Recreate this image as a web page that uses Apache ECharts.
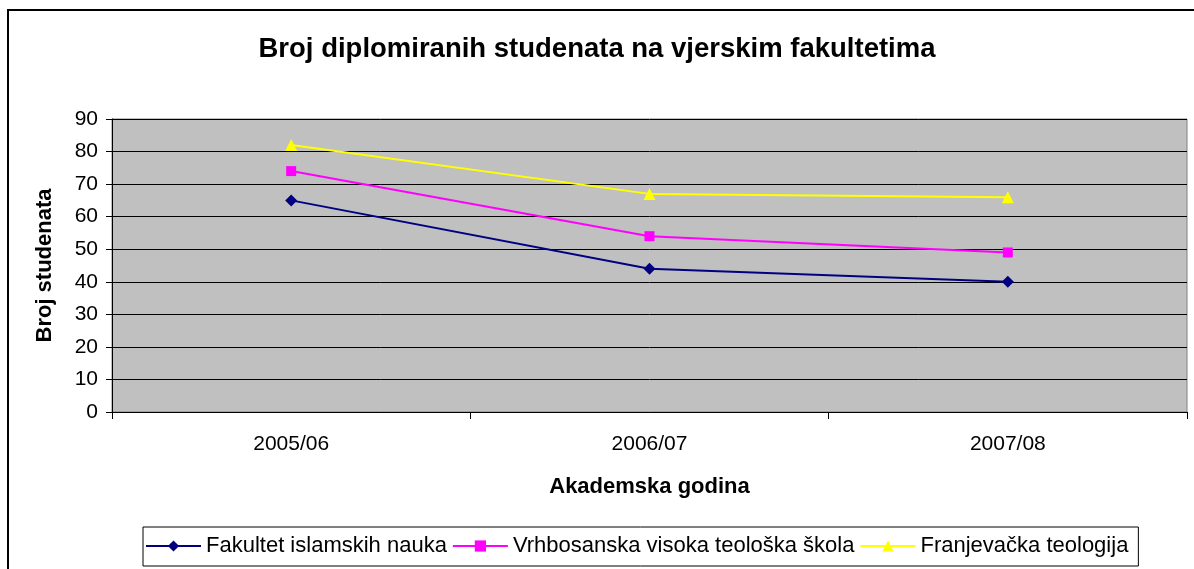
<!DOCTYPE html>
<html><head><meta charset="utf-8">
<script src="https://cdn.jsdelivr.net/npm/echarts@6/dist/echarts.min.js"></script>
<style>html,body{margin:0;padding:0;background:#fff}#c{width:1194px;height:569px}</style>
</head><body><div id="c"></div>
<script>
const categories = ['2005/06', '2006/07', '2007/08'];
const seriesNames = ['Fakultet islamskih nauka', 'Vrhbosanska visoka teološka škola', 'Franjevačka teologija'];
const fakultet = [65, 44, 40];
const vrhbosanska = [74, 54, 49];
const franjevacka = [82, 67, 66];
const yTicks = [0, 10, 20, 30, 40, 50, 60, 70, 80, 90];

const chart = echarts.init(document.getElementById('c'), null, {renderer: 'canvas'});
const F = 'Liberation Sans, Arial, sans-serif';
function mk(name, data, color, symbol, size) {
  return {name, type: 'line', data, symbol, symbolSize: size,
    lineStyle: {color, width: 2}, itemStyle: {color}, animation: false};
}
chart.setOption({
  animation: false,
  graphic: [{type: 'rect', shape: {x: 8, y: 10, width: 1200, height: 600}, style: {fill: 'none', stroke: '#000', lineWidth: 2}, z: -1}],
  title: {text: 'Broj diplomiranih studenata na vjerskim fakultetima', left: 'center', top: 30,
    textStyle: {fontFamily: F, fontSize: 27.5, fontWeight: 'bold', color: '#000'}},
  grid: {left: 112, right: 7, top: 119, bottom: 157, show: true, backgroundColor: '#c0c0c0', borderColor: '#808080', borderWidth: 1},
  legend: {data: seriesNames, left: 143, top: 527, itemWidth: 55, itemHeight: 14, itemGap: 5,
    borderColor: '#000', borderWidth: 1, padding: [8, 10, 9, 2],
    textStyle: {fontFamily: F, fontSize: 22, color: '#000'}},
  xAxis: {type: 'category', data: categories, boundaryGap: true,
    name: 'Akademska godina', nameLocation: 'middle', nameGap: 64,
    nameTextStyle: {fontFamily: F, fontSize: 22, fontWeight: 'bold', color: '#000'},
    axisLine: {lineStyle: {color: '#000', width: 1}},
    axisTick: {show: true, length: 7, lineStyle: {color: '#000'}},
    axisLabel: {fontFamily: F, fontSize: 21, color: '#000', margin: 22}},
  yAxis: {type: 'value', min: yTicks[0], max: yTicks[yTicks.length - 1], interval: 10,
    name: 'Broj studenata', nameLocation: 'middle', nameGap: 56,
    nameTextStyle: {fontFamily: F, fontSize: 22, fontWeight: 'bold', color: '#000'},
    axisLine: {show: true, lineStyle: {color: '#000'}},
    axisTick: {show: true, length: 6, lineStyle: {color: '#000'}},
    splitLine: {lineStyle: {color: '#000', width: 1}},
    axisLabel: {fontFamily: F, fontSize: 21, color: '#000', margin: 14}},
  series: [
    mk(seriesNames[0], fakultet, '#000080', 'diamond', 12),
    mk(seriesNames[1], vrhbosanska, '#ff00ff', 'rect', 10),
    mk(seriesNames[2], franjevacka, '#ffff00', 'triangle', 12)
  ]
});
</script></body></html>
